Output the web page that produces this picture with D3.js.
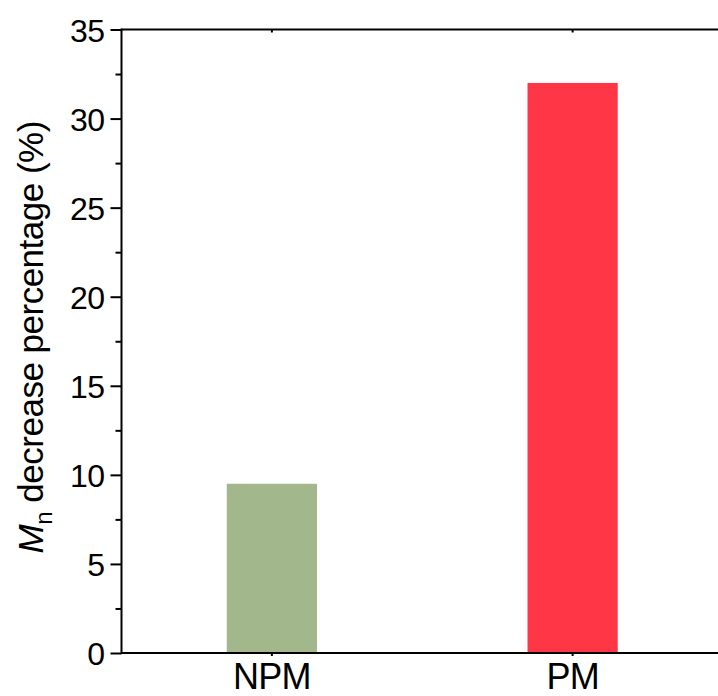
<!DOCTYPE html>
<html>
<head>
<meta charset="utf-8">
<script src="https://cdn.jsdelivr.net/npm/d3@7"></script>
<style>
  html, body { margin: 0; padding: 0; background: #fff; }
  svg { display: block; font-family: "Liberation Sans", Arial, sans-serif; }
</style>
</head>
<body>
<svg id="chart" width="718" height="696"></svg>
<script>
const categories = ["NPM", "PM"];
const values = [9.5, 32];
const colors = ["#A2B88C", "#FF3646"];
const majorTicks = [0, 5, 10, 15, 20, 25, 30, 35];
const minorTicks = [2.5, 7.5, 12.5, 17.5, 22.5, 27.5, 32.5];

const svg = d3.select("#chart");
const margin = { left: 121.5, top: 29.5, right: -5, bottom: 43 };
const W = 718, H = 696;
const x0 = margin.left, x1 = W - margin.right;
const y0 = H - margin.bottom, y1 = margin.top;

const x = d3.scaleBand().domain(categories).range([x0, x1])
  .paddingInner(0.7).paddingOuter(0.35);
const y = d3.scaleLinear().domain([0, 35]).range([y0, y1]);

// bars
svg.append("g").selectAll("rect").data(categories).join("rect")
  .attr("x", d => x(d))
  .attr("width", x.bandwidth())
  .attr("y", (d, i) => y(values[i]))
  .attr("height", (d, i) => y(0) - y(values[i]))
  .attr("fill", (d, i) => colors[i]);

// left axis major
const yAxis = d3.axisLeft(y).tickValues(majorTicks).tickSize(11).tickPadding(6).tickFormat(d3.format("d"));
const gy = svg.append("g").attr("transform", `translate(${x0},0)`).call(yAxis);
gy.select(".domain").remove();
gy.selectAll(".tick line").attr("stroke", "#000").attr("stroke-width", 2);
gy.selectAll(".tick text").attr("font-size", 32).attr("fill", "#000").attr("dy", "0.36em")
  .attr("letter-spacing", -0.5);

// left axis minor
const yMinor = d3.axisLeft(y).tickValues(minorTicks).tickSize(6).tickFormat("");
const gym = svg.append("g").attr("transform", `translate(${x0},0)`).call(yMinor);
gym.select(".domain").remove();
gym.selectAll(".tick line").attr("stroke", "#000").attr("stroke-width", 2);

// bottom axis
const xAxis = d3.axisBottom(x).tickSize(3).tickPadding(7);
const gx = svg.append("g").attr("transform", `translate(0,${y0})`).call(xAxis);
gx.select(".domain").remove();
gx.selectAll(".tick line").attr("stroke", "#000").attr("stroke-width", 2);
gx.selectAll(".tick text").attr("font-size", 36).attr("fill", "#000").attr("letter-spacing", -0.8);

// top axis ticks (inward small)
const xTop = d3.axisTop(x).tickSize(-3).tickFormat("");
const gt = svg.append("g").attr("transform", `translate(0,${y1})`).call(xTop);
gt.select(".domain").remove();
gt.selectAll(".tick line").attr("stroke", "#000").attr("stroke-width", 2);

// frame lines
svg.append("line").attr("x1", x0).attr("x2", x1).attr("y1", y0).attr("y2", y0)
  .attr("stroke", "#000").attr("stroke-width", 2);
svg.append("line").attr("x1", x0).attr("x2", x1).attr("y1", y1).attr("y2", y1)
  .attr("stroke", "#000").attr("stroke-width", 2);
svg.append("line").attr("x1", x0).attr("x2", x0).attr("y1", y1 - 1).attr("y2", y0 + 1)
  .attr("stroke", "#000").attr("stroke-width", 2);

// y label
const lab = svg.append("text")
  .attr("transform", `translate(43,${(y0 + y1) / 2 - 4}) rotate(-90)`)
  .attr("text-anchor", "middle")
  .attr("font-size", 35)
  .attr("letter-spacing", -0.5)
  .attr("fill", "#000");
lab.append("tspan").attr("font-style", "italic").text("M");
lab.append("tspan").attr("font-size", 24).attr("dy", 9).text("n");
lab.append("tspan").attr("dy", -9).text(" decrease percentage (%)");
</script>
</body>
</html>
